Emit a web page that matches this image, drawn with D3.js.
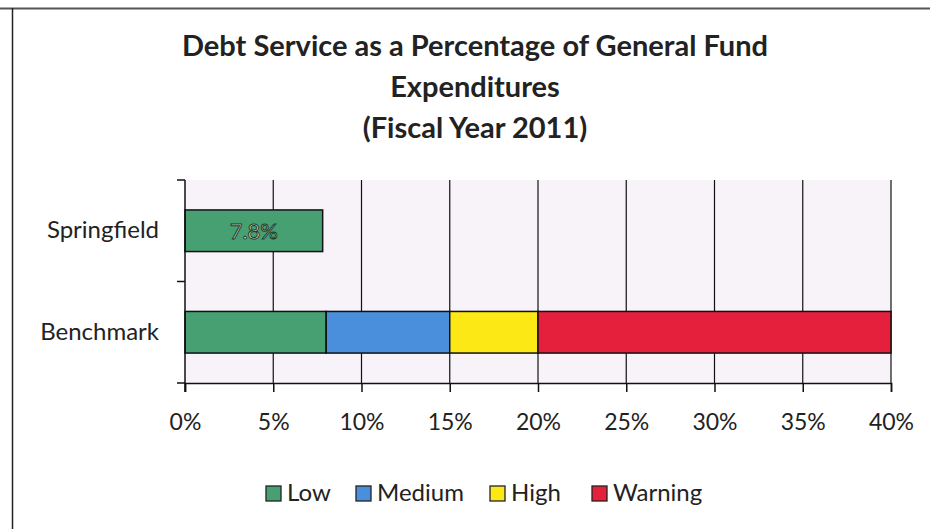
<!DOCTYPE html>
<html>
<head>
<meta charset="utf-8">
<script src="https://cdn.jsdelivr.net/npm/d3@7"></script>
<style>
  body { margin: 0; background: #fff; }
  svg text { font-family: Lato, "Open Sans", sans-serif; fill: #222; }
</style>
</head>
<body>
<div id="chart"></div>
<script>
// Data
const categories = ["Springfield", "Benchmark"];
const keys = ["low", "medium", "high", "warning"];
const keyLabels = ["Low", "Medium", "High", "Warning"];
const colors = ["#46a072", "#4a8fdc", "#fbe815", "#e5203d"];
const springfield = [7.8, 0, 0, 0];
const benchmark = [8, 7, 5, 20];
const xTicks = [0, 5, 10, 15, 20, 25, 30, 35, 40];
const titleLines = ["Debt Service as a Percentage of General Fund", "Expenditures", "(Fiscal Year 2011)"];

const W = 930, H = 529;
const margin = { top: 180, right: 39, bottom: 146, left: 185 };
const width = W - margin.left - margin.right;
const height = H - margin.top - margin.bottom;

const rows = [springfield, benchmark].map((vals, i) => {
    const r = { cat: categories[i] };
    keys.forEach((k, j) => r[k] = vals[j]);
    return r;
});

const svg = d3.select("#chart").append("svg")
    .attr("width", W).attr("height", H);

// page frame (scanned border)
svg.append("line").attr("x1", 0).attr("x2", W).attr("y1", 8.5).attr("y2", 8.5)
    .attr("stroke", "#555").attr("stroke-width", 2);
svg.append("line").attr("x1", 12.5).attr("x2", 12.5).attr("y1", 8).attr("y2", H)
    .attr("stroke", "#222").attr("stroke-width", 1.5);

// title
svg.append("text").attr("text-anchor", "middle")
    .style("font-size", "29px").style("font-weight", "700")
    .selectAll("tspan").data(titleLines).enter().append("tspan")
    .attr("x", 475).attr("y", (d, i) => 56 + i * 41).text(d => d);

const g = svg.append("g").attr("transform", `translate(${margin.left},${margin.top})`);

const x = d3.scaleLinear().domain([0, 40]).range([0, width]);
const y = d3.scaleBand().domain(categories).range([0, height]).paddingInner(0.59).paddingOuter(0.295);
const yOuter = d3.scaleBand().domain(categories).range([0, height]);

g.append("rect").attr("width", width).attr("height", height).attr("fill", "#f8f2f9");

// vertical gridlines
g.selectAll(".grid").data(xTicks.slice(1)).enter().append("line")
    .attr("x1", d => x(d)).attr("x2", d => x(d))
    .attr("y1", 0).attr("y2", height)
    .attr("stroke", "#111").attr("stroke-width", 1.2);

// bars
const stacked = d3.stack().keys(keys)(rows);
const layer = g.selectAll(".layer").data(stacked).enter().append("g")
    .attr("fill", (d, i) => colors[i]);
layer.selectAll("rect").data(d => d.filter(s => s[1] - s[0] > 0)).enter().append("rect")
    .attr("x", d => x(d[0]))
    .attr("y", d => y(d.data.cat))
    .attr("width", d => x(d[1]) - x(d[0]))
    .attr("height", y.bandwidth())
    .attr("stroke", "#111").attr("stroke-width", 1.5);

// data label
g.append("text")
    .attr("x", x(springfield[0] / 2)).attr("y", y("Springfield") + y.bandwidth() / 2 + 8)
    .attr("text-anchor", "middle")
    .style("font-size", "22px")
    .style("fill", "#d8eee0").style("stroke", "#1f3b2c").style("stroke-width", 1)
    .text(springfield[0].toFixed(1) + "%");

// x axis
const xAxis = g.append("g").attr("transform", `translate(0,${height})`)
    .call(d3.axisBottom(x).tickValues(xTicks).tickFormat(d => d + "%").tickSize(9));
xAxis.select(".domain").attr("stroke", "#111").attr("stroke-width", 1.5);
xAxis.selectAll(".tick line").attr("stroke", "#111").attr("stroke-width", 1.5);
xAxis.selectAll(".tick text").attr("y", 47).attr("dy", 0)
    .style("font-size", "23px").style("font-family", "Lato, sans-serif").attr("fill", "#222");

// y axis
const yAxis = g.append("g")
    .call(d3.axisLeft(yOuter).tickSize(0).tickPadding(26));
yAxis.select(".domain").attr("stroke", "#111").attr("stroke-width", 1.5).attr("d", `M0,0V${height + 9}`);
yAxis.selectAll(".tick text").style("font-size", "24px").style("font-family", "Lato, sans-serif").attr("fill", "#222");
g.selectAll(".ytick").data([0, height / 2, height]).enter().append("line")
    .attr("x1", -8).attr("x2", 0).attr("y1", d => d).attr("y2", d => d)
    .attr("stroke", "#111").attr("stroke-width", 1.5);

// legend
const legendX = [266, 356, 490, 592];
const legend = svg.append("g").attr("transform", "translate(0,486)");
keyLabels.forEach((lab, i) => {
    const row = legend.append("g").attr("transform", `translate(${legendX[i]},0)`);
    row.append("rect").attr("width", 15).attr("height", 15)
        .attr("fill", colors[i]).attr("stroke", "#222").attr("stroke-width", 1.3);
    row.append("text").attr("x", 21).attr("y", 15).style("font-size", "24px").text(lab);
});
</script>
</body>
</html>
